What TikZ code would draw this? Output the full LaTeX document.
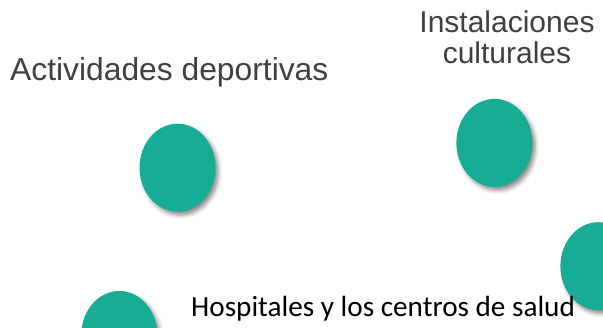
\documentclass[tikz,border=0pt]{standalone}
\usepackage{fontspec}
\setmainfont{Liberation Sans}
\newfontfamily\calibrifont{Carlito}
\usetikzlibrary{positioning, shapes.geometric, shadows.blur}
\definecolor{dotteal}{RGB}{23,172,148}
\definecolor{labelgray}{RGB}{64,64,64}

\begin{document}
\begin{tikzpicture}[x=1pt, y=1pt,
        dot/.style={ellipse, fill=dotteal, draw=none, inner sep=0pt,
                    minimum width=76pt, minimum height=88pt,
                    blur shadow={shadow xshift=3pt, shadow yshift=-3.5pt,
                                 shadow blur radius=4pt, shadow opacity=45}},
        label/.style={text=labelgray, inner sep=0pt,
                      font=\fontsize{31.8}{32}\selectfont},
    ]
    \useasboundingbox (0, 0) rectangle (603, -328);
    \clip (0, 0) rectangle (603, -328);

    % ====== puntos ======
    \node[dot] (dep) at (177.5, -167.7) {};
    \node[dot] (cul) at (494.4, -142.9) {};
    \node[dot] (otr) at (598.4, -266.2) {};
    \node[dot] (hos) at (119.3, -335.0) {};

    % ====== textos ======
    \node[label, anchor=base west] (tdep) at (10, -80.7) {Actividades deportivas};
    \node[label, align=center, anchor=base,
          font=\fontsize{30}{30.6}\selectfont] (tcul) at (507, -63.3)
        {Instalaciones\\culturales};
    \node[inner sep=0pt, anchor=base west, text=black,
          font=\calibrifont\fontsize{29.2}{30}\selectfont] (thos) at (191, -316.7)
        {Hospitales y los centros de salud};

\end{tikzpicture}
\end{document}
